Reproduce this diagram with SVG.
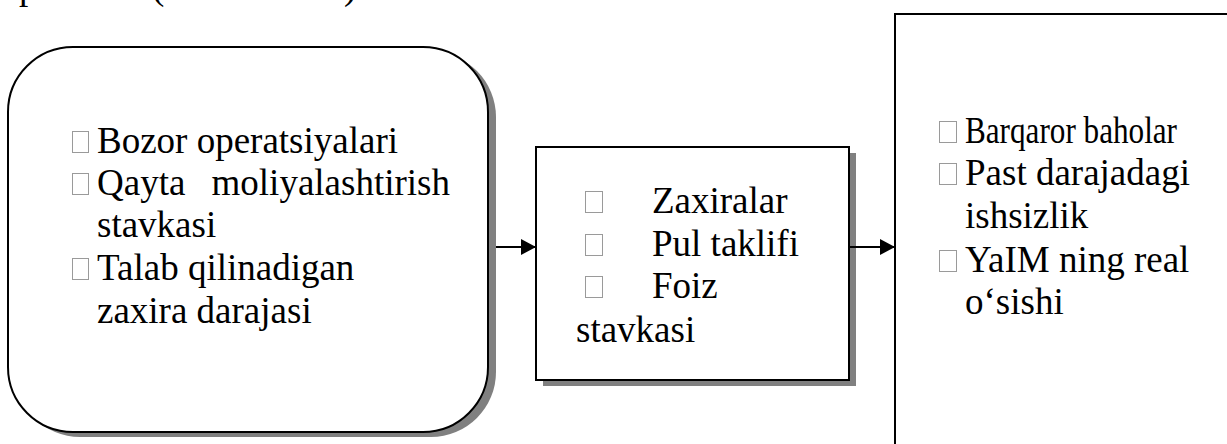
<svg xmlns="http://www.w3.org/2000/svg" width="1227" height="444" viewBox="0 0 1227 444">
<style>
.t{font-family:'Liberation Serif','Times New Roman',serif;font-size:37px;fill:#000}
.box{fill:#fff;stroke:#000;stroke-width:2}
.sh{fill:#808080}
.tofu{fill:none;stroke:#9a9a9a;stroke-width:1}
.conn{stroke:#000;stroke-width:2;fill:none}
</style>
<defs>
<marker id="ah" markerWidth="15" markerHeight="16" refX="15" refY="8" orient="auto" markerUnits="userSpaceOnUse">
<path d="M0,0 L15,8 L0,16 Z" fill="#000"/>
</marker>
</defs>
<rect width="1227" height="444" fill="#fff"/>
<g id="top-cut">
<text class="t" x="19" y="-1">p</text>
<text class="t" x="152" y="-1">(</text>
<text class="t" x="344" y="-1">)</text>
</g>
<g id="node-tools">
<rect class="sh" x="15" y="52" width="481" height="385" rx="65" ry="65"/>
<rect class="box" x="8" y="47" width="480" height="385" rx="65" ry="65"/>
<rect class="tofu" x="72.5" y="131.5" width="16" height="21"/>
<text class="t" x="97" y="153">Bozor operatsiyalari</text>
<rect class="tofu" x="72.5" y="173.5" width="16" height="21"/>
<text class="t" x="97" y="195">Qayta</text>
<text class="t" x="450" y="195" text-anchor="end">moliyalashtirish</text>
<text class="t" x="97" y="237">stavkasi</text>
<rect class="tofu" x="72.5" y="258.5" width="16" height="21"/>
<text class="t" x="97" y="280">Talab qilinadigan</text>
<text class="t" x="97" y="323">zaxira darajasi</text>
</g>
<g id="node-targets">
<rect class="sh" x="543" y="153" width="313" height="233"/>
<rect class="box" x="536" y="147" width="313" height="233"/>
<rect class="tofu" x="585.5" y="191.5" width="17" height="21"/>
<text class="t" x="652" y="213">Zaxiralar</text>
<rect class="tofu" x="585.5" y="234.5" width="17" height="21"/>
<text class="t" x="652" y="256">Pul taklifi</text>
<rect class="tofu" x="585.5" y="276.5" width="17" height="21"/>
<text class="t" x="652" y="298">Foiz</text>
<text class="t" x="576" y="342">stavkasi</text>
</g>
<g id="node-goals">
<rect class="box" x="895" y="14" width="345" height="450"/>
<rect class="tofu" x="939.5" y="121.5" width="17" height="21"/>
<text class="t" x="965" y="143" textLength="212" lengthAdjust="spacingAndGlyphs">Barqaror baholar</text>
<rect class="tofu" x="939.5" y="163.5" width="17" height="21"/>
<text class="t" x="965" y="185">Past darajadagi</text>
<text class="t" x="965" y="228">ishsizlik</text>
<rect class="tofu" x="939.5" y="250.5" width="17" height="21"/>
<text class="t" x="965" y="272">YaIM ning real</text>
<text class="t" x="965" y="314">o‘sishi</text>
</g>
<g id="connectors">
<line class="conn" x1="496" y1="247" x2="536" y2="247" marker-end="url(#ah)"/>
<line class="conn" x1="849" y1="247" x2="895" y2="247" marker-end="url(#ah)"/>
</g>
</svg>
